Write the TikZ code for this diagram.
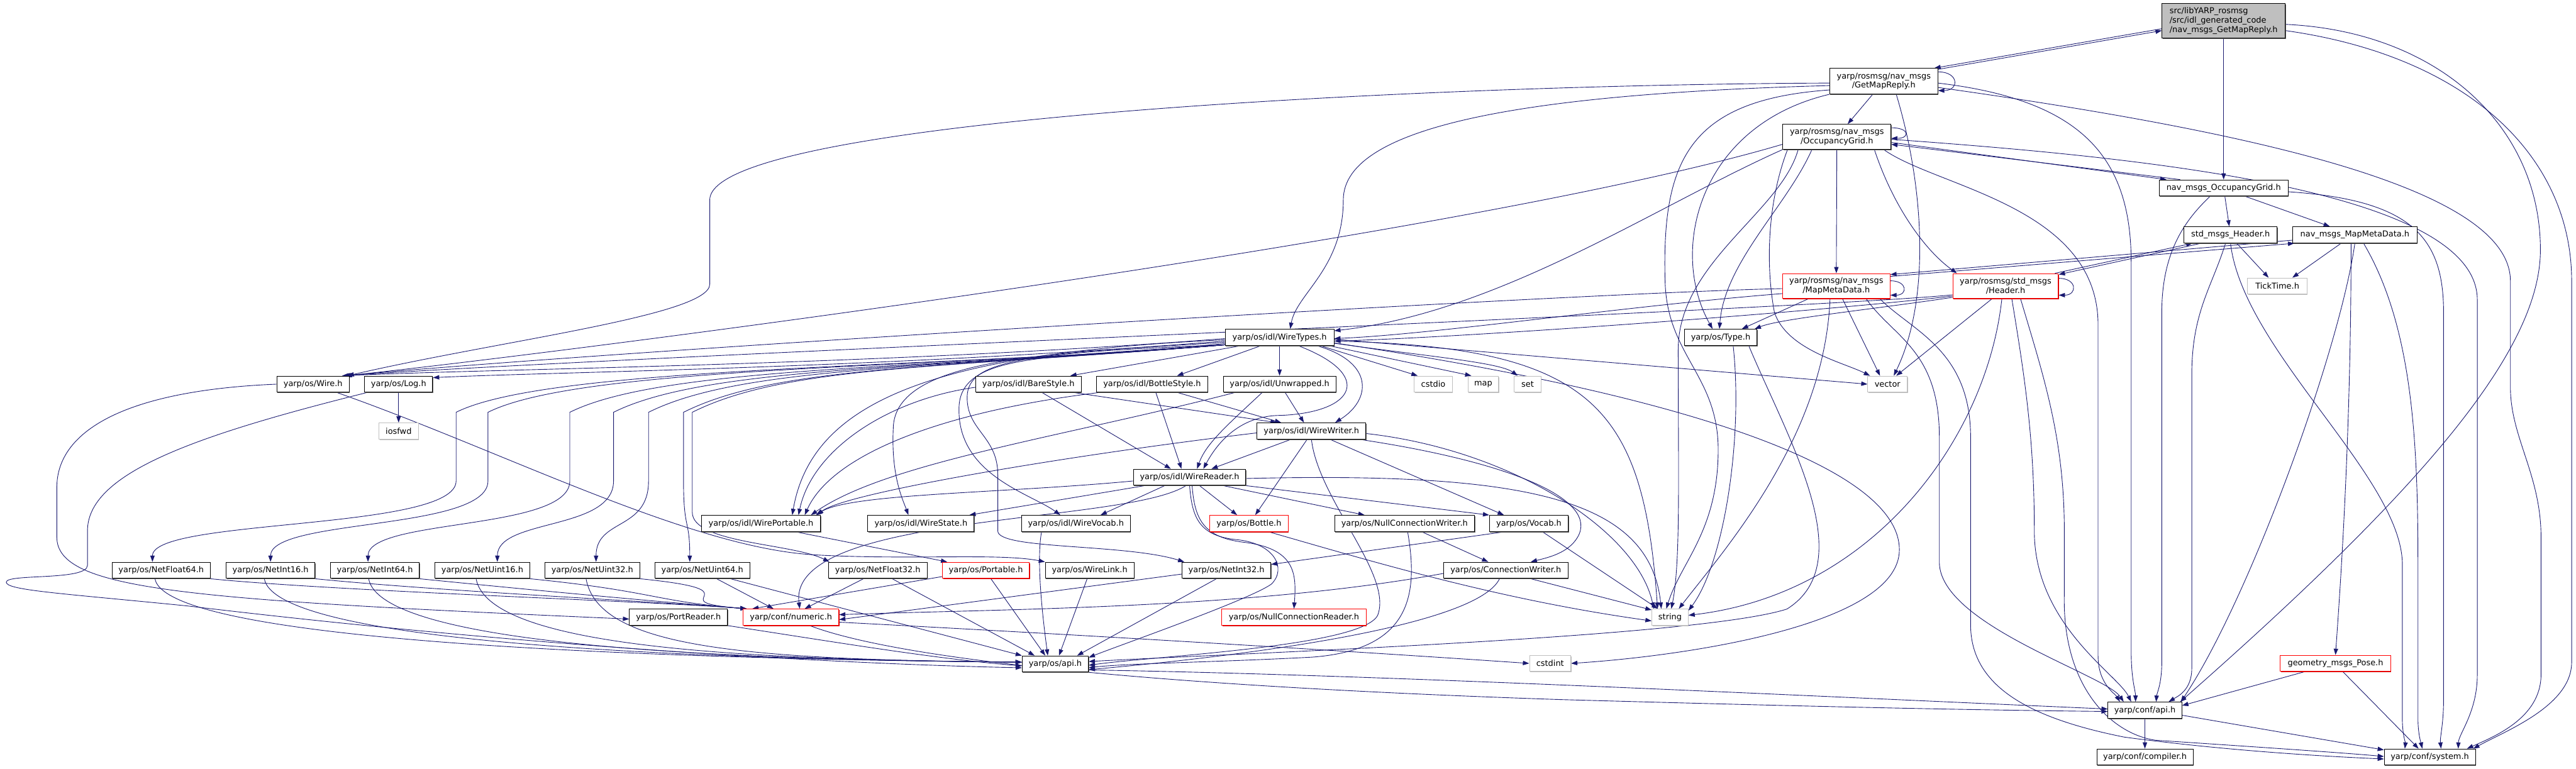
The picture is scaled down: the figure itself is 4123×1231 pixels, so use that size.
\documentclass[tikz,border=0pt]{standalone}
\usepackage{fontspec}
\setmainfont{DejaVu Sans}
\usetikzlibrary{arrows.meta,shadows,backgrounds}

\definecolor{depblue}{HTML}{191970}
\definecolor{sysgray}{HTML}{BFBFBF}
\definecolor{cutred}{HTML}{FF0000}

\tikzset{
  boxbase/.style={rectangle, fill=white, line width=1pt, inner sep=0pt,
    minimum height=26pt, font=\fontsize{13pt}{15pt}\selectfont},
  hdrbox/.style={boxbase, draw=black,
    drop shadow={shadow xshift=1pt, shadow yshift=-1.5pt, fill=black!60, opacity=1}},
  cutbox/.style={boxbase, draw=cutred,
    drop shadow={shadow xshift=1pt, shadow yshift=-1.5pt, fill=cutred!80!black, opacity=1}},
  sysbox/.style={boxbase, draw=sysgray,
    drop shadow={shadow xshift=1pt, shadow yshift=-1.5pt, fill=black!25, opacity=1}},
  dep/.style={draw=depblue, line width=0.9pt, -{Triangle[length=10pt,width=7pt]}}
}

\begin{document}
\begin{tikzpicture}[x=1pt, y=-1pt]
\useasboundingbox (0,0) rectangle (4123,1231);

% top of the graph
\node[hdrbox, fill=sysgray, minimum width=197pt, minimum height=55pt, align=left] (root) at (3559,33) {src/libYARP\_rosmsg\\/src/idl\_generated\_code\\/nav\_msgs\_GetMapReply.h};
\node[hdrbox, minimum width=173pt, minimum height=41pt, align=center] (gmr) at (3015,130) {yarp/rosmsg/nav\_msgs\\/GetMapReply.h};
\node[hdrbox, minimum width=173pt, minimum height=40pt, align=center] (occ) at (2940,219) {yarp/rosmsg/nav\_msgs\\/OccupancyGrid.h};
\node[hdrbox, minimum width=206pt] (navocc) at (3559,301) {nav\_msgs\_OccupancyGrid.h};
\node[hdrbox, minimum width=149pt] (stdhdr) at (3570,376) {std\_msgs\_Header.h};
\node[hdrbox, minimum width=199pt] (navmeta) at (3769,376) {nav\_msgs\_MapMetaData.h};
\node[cutbox, minimum width=172pt, minimum height=40pt, align=center] (meta) at (2939,458) {yarp/rosmsg/nav\_msgs\\/MapMetaData.h};
\node[cutbox, minimum width=169pt, minimum height=40pt, align=center] (hdr) at (3210,458) {yarp/rosmsg/std\_msgs\\/Header.h};
\node[sysbox, minimum width=95pt] (ticktime) at (3645,458) {TickTime.h};

% idl layer
\node[hdrbox, minimum width=174pt] (wiretypes) at (2048,540) {yarp/os/idl/WireTypes.h};
\node[hdrbox, minimum width=116pt] (type) at (2754,540) {yarp/os/Type.h};
\node[hdrbox, minimum width=116pt] (wire) at (501,615) {yarp/os/Wire.h};
\node[hdrbox, minimum width=109pt] (log) at (638,615) {yarp/os/Log.h};
\node[hdrbox, minimum width=169pt] (bare) at (1646,615) {yarp/os/idl/BareStyle.h};
\node[hdrbox, minimum width=178pt] (bottlestyle) at (1844,615) {yarp/os/idl/BottleStyle.h};
\node[hdrbox, minimum width=180pt] (unwrapped) at (2048,615) {yarp/os/idl/Unwrapped.h};
\node[sysbox, minimum width=61pt] (cstdio) at (2294,615) {cstdio};
\node[sysbox, minimum width=49pt] (map) at (2374,615) {map};
\node[sysbox, minimum width=43pt] (set) at (2445,615) {set};
\node[sysbox, minimum width=63pt] (vector) at (3021,615) {vector};
\node[sysbox, minimum width=63pt] (iosfwd) at (638,690) {iosfwd};
\node[hdrbox, minimum width=174pt] (wirewriter) at (2099,690) {yarp/os/idl/WireWriter.h};
\node[hdrbox, minimum width=180pt] (wirereader) at (1904,764) {yarp/os/idl/WireReader.h};

\node[hdrbox, minimum width=191pt] (wireportable) at (1218,838) {yarp/os/idl/WirePortable.h};
\node[hdrbox, minimum width=170pt] (wirestate) at (1474,838) {yarp/os/idl/WireState.h};
\node[hdrbox, minimum width=174pt] (wirevocab) at (1722,838) {yarp/os/idl/WireVocab.h};
\node[cutbox, minimum width=125pt] (bottle) at (1999,838) {yarp/os/Bottle.h};
\node[hdrbox, minimum width=224pt] (nullwriter) at (2248,838) {yarp/os/NullConnectionWriter.h};
\node[hdrbox, minimum width=126pt] (vocab) at (2447,838) {yarp/os/Vocab.h};

% net types row
\node[hdrbox, minimum width=157pt] (netfloat64) at (258,913) {yarp/os/NetFloat64.h};
\node[hdrbox, minimum width=142pt] (netint16) at (433,913) {yarp/os/NetInt16.h};
\node[hdrbox, minimum width=142pt] (netint64) at (600,913) {yarp/os/NetInt64.h};
\node[hdrbox, minimum width=152pt] (netuint16) at (772,913) {yarp/os/NetUint16.h};
\node[hdrbox, minimum width=152pt] (netuint32) at (948,913) {yarp/os/NetUint32.h};
\node[hdrbox, minimum width=152pt] (netuint64) at (1124,913) {yarp/os/NetUint64.h};
\node[hdrbox, minimum width=158pt] (netfloat32) at (1405,913) {yarp/os/NetFloat32.h};
\node[cutbox, minimum width=139pt] (portable) at (1578,913) {yarp/os/Portable.h};
\node[hdrbox, minimum width=142pt] (wirelink) at (1744,913) {yarp/os/WireLink.h};
\node[hdrbox, minimum width=142pt] (netint32) at (1963,913) {yarp/os/NetInt32.h};
\node[hdrbox, minimum width=199pt] (connwriter) at (2410,913) {yarp/os/ConnectionWriter.h};

\node[hdrbox, minimum width=157pt] (portreader) at (1086,988) {yarp/os/PortReader.h};
\node[cutbox, minimum width=153pt] (numeric) at (1266,988) {yarp/conf/numeric.h};
\node[cutbox, minimum width=231pt] (nullreader) at (2071,988) {yarp/os/NullConnectionReader.h};
\node[sysbox, minimum width=58pt] (string) at (2673,988) {string};

% bottom
\node[hdrbox, minimum width=106pt] (osapi) at (1689,1063) {yarp/os/api.h};
\node[sysbox, minimum width=66pt] (cstdint) at (2481,1062) {cstdint};
\node[cutbox, minimum width=177pt] (pose) at (3738,1062) {geometry\_msgs\_Pose.h};
\node[hdrbox, minimum width=118pt] (confapi) at (3433,1137) {yarp/conf/api.h};
\node[hdrbox, minimum width=154pt] (compiler) at (3433,1212) {yarp/conf/compiler.h};
\node[hdrbox, minimum width=146pt] (system) at (3889,1212) {yarp/conf/system.h};

\begin{scope}[on background layer]
% root
\draw[dep] ([yshift=-13pt]root.west) -- ([xshift=-6pt]gmr.north east);
\draw[dep] ([yshift=-2pt]gmr.north east) -- ([yshift=-16pt]root.west);
\draw[dep] (root) -- (navocc);
\draw[dep] ([yshift=-6pt]root.east) .. controls (3900,50) and (4066,200) .. (4066,400) .. controls (4066,560) and (3880,780) .. ([xshift=-3pt]confapi.north east);
\draw[dep] ([yshift=-16pt]root.east) .. controls (3950,90) and (4116,250) .. (4116,450) -- (4116,1060) .. controls (4116,1130) and (4010,1170) .. ([xshift=-4pt]system.north east);

% GetMapReply
\draw[dep] ([yshift=-6pt]gmr.north east) .. controls +(34,0) and +(34,0) .. ([yshift=6pt]gmr.south east);
\draw[dep] (gmr) -- (occ);
\draw[dep] ([yshift=-3pt]gmr.west) .. controls (2300,135) and (1136,190) .. (1136,320) -- (1136,455) .. controls (1136,505) and (800,545) .. ([xshift=-3pt]wire.north east);
\draw[dep] ([yshift=-7pt]gmr.west) .. controls (2450,150) and (2150,200) .. (2150,320) .. controls (2150,430) and (2075,470) .. ([xshift=17pt]wiretypes.north);
\draw[dep] ([yshift=-14pt]gmr.west) .. controls (2700,160) and (2660,260) .. (2665,450) .. controls (2668,570) and (2750,600) .. (2750,720) .. controls (2750,850) and (2690,900) .. ([xshift=-6pt]string.north);
\draw[dep] (gmr.south west) .. controls (2720,200) and (2670,400) .. ([xshift=-13pt]type.north);
\draw[dep] ([xshift=20pt]gmr.south) .. controls (3080,300) and (3090,480) .. ([xshift=10pt]vector.north);
\draw[dep] ([yshift=-3pt]gmr.east) .. controls (3330,160) and (3411,250) .. (3411,420) -- (3411,1040) .. controls (3411,1090) and (3418,1105) .. ([xshift=-15pt]confapi.north);
\draw[dep] ([yshift=-10pt]gmr.east) .. controls (3600,210) and (4018,300) .. (4018,450) -- (4018,620) .. controls (4018,700) and (4067,760) .. (4067,860) -- (4067,1080) .. controls (4067,1150) and (3990,1180) .. ([xshift=-14pt]system.north east);

% rosmsg OccupancyGrid
\draw[dep] ([yshift=-6pt]occ.north east) .. controls +(30,0) and +(30,0) .. ([yshift=-23pt]occ.north east);
\draw[dep] ([yshift=-9pt]occ.east) -- ([xshift=12pt]navocc.north west);
\draw[dep] ([xshift=34pt]navocc.north west) -- ([yshift=-12pt]occ.east);
\draw[dep] (occ) -- (meta);
\draw[dep] ([xshift=60pt]occ.south) .. controls (3030,330) and (3080,400) .. ([xshift=-78pt]hdr.north);
\draw[dep] ([yshift=-12pt]occ.west) .. controls (2350,380) and (900,565) .. ([xshift=-6pt]wire.north east);
\draw[dep] (occ.south west) .. controls (2650,330) and (2400,500) .. ([yshift=-3pt]wiretypes.north east);
\draw[dep] ([xshift=-40pt]occ.south) .. controls (2860,330) and (2760,420) .. ([xshift=-2pt]type.north);
\draw[dep] ([xshift=-62pt]occ.south) .. controls (2850,340) and (2686,420) .. (2686,560) .. controls (2686,760) and (2690,900) .. ([xshift=2pt]string.north);
\draw[dep] ([xshift=8pt]occ.south west) .. controls (2830,320) and (2825,420) .. (2840,500) .. controls (2860,560) and (2950,580) .. ([xshift=4pt]vector.north west);
\draw[dep] ([xshift=75pt]occ.south) .. controls (3100,300) and (3358,330) .. (3358,520) -- (3358,1050) .. controls (3358,1095) and (3385,1110) .. ([xshift=-40pt]confapi.north);
\draw[dep] ([yshift=-4pt]occ.east) .. controls (3400,250) and (3965,300) .. (3965,480) -- (3965,1080) .. controls (3965,1140) and (3935,1175) .. ([xshift=-28pt]system.north east);

% nav_msgs_OccupancyGrid.h
\draw[dep] (navocc) -- (stdhdr);
\draw[dep] ([xshift=35pt]navocc.south) -- ([xshift=-40pt]navmeta.north);
\draw[dep] ([xshift=-22pt]navocc.south) .. controls (3500,350) and (3460,400) .. (3460,500) -- (3460,1060) .. controls (3460,1095) and (3452,1110) .. ([xshift=18pt]confapi.north);
\draw[dep] ([yshift=-6pt]navocc.east) .. controls (3860,320) and (3911,380) .. (3911,500) -- (3911,1120) .. controls (3911,1160) and (3905,1180) .. ([xshift=18pt]system.north);

% std_msgs_Header.h
\draw[dep] ([xshift=-6pt]hdr.north east) -- ([xshift=14pt]stdhdr.south west);
\draw[dep] ([xshift=28pt]stdhdr.south west) -- ([yshift=-2pt]hdr.north east);
\draw[dep] ([xshift=10pt]stdhdr.south) -- ([xshift=-14pt]ticktime.north);
\draw[dep] ([xshift=-8pt]stdhdr.south) .. controls (3540,460) and (3508,500) .. (3508,600) -- (3508,1070) .. controls (3508,1105) and (3485,1115) .. ([xshift=38pt]confapi.north);
\draw[dep] (stdhdr.south) .. controls (3590,560) and (3840,760) .. (3845,900) -- (3845,1150) .. controls (3845,1175) and (3850,1190) .. ([xshift=-40pt]system.north);

% nav_msgs_MapMetaData.h
\draw[dep] ([yshift=-5pt]meta.north east) -- ([xshift=3pt]navmeta.south west);
\draw[dep] ([yshift=-22pt]navmeta.north west) -- ([yshift=-2pt]meta.north east);
\draw[dep] ([xshift=-22pt]navmeta.south) -- ([xshift=24pt]ticktime.north);
\draw[dep] ([xshift=-6pt]navmeta.south) .. controls (3763,700) and (3745,950) .. (pose.north);
\draw[dep] (navmeta.south) .. controls (3745,560) and (3600,960) .. ([xshift=-2pt]confapi.north east);
\draw[dep] ([xshift=14pt]navmeta.south) .. controls (3860,520) and (3870,700) .. (3870,900) -- (3870,1150) .. controls (3870,1175) and (3875,1190) .. ([xshift=-12pt]system.north);

% rosmsg MapMetaData
\draw[dep] ([yshift=-12pt]meta.north east) .. controls +(28,0) and +(28,0) .. ([yshift=6pt]meta.south east);
\draw[dep] ([yshift=-4pt]meta.west) .. controls (2500,470) and (1000,560) .. ([xshift=-8pt]wire.north east);
\draw[dep] ([yshift=-12pt]meta.west) .. controls (2600,490) and (2300,535) .. ([yshift=-2pt]wiretypes.east);
\draw[dep] ([xshift=-45pt]meta.south) -- ([xshift=34pt]type.north);
\draw[dep] ([xshift=-10pt]meta.south) .. controls (2920,700) and (2760,880) .. ([xshift=14pt]string.north);
\draw[dep] ([xshift=10pt]meta.south) -- ([xshift=-12pt]vector.north);
\draw[dep] ([xshift=48pt]meta.south) .. controls (3030,540) and (3104,560) .. (3104,700) -- (3104,900) .. controls (3104,1000) and (3370,1080) .. ([xshift=-34pt]confapi.north);
\draw[dep] ([xshift=70pt]meta.south) .. controls (3060,530) and (3154,560) .. (3154,700) -- (3154,1000) .. controls (3154,1100) and (3250,1150) .. (3400,1180) .. controls (3550,1200) and (3700,1210) .. ([yshift=-3pt]system.west);

% rosmsg std_msgs Header
\draw[dep] ([yshift=-8pt]hdr.north east) .. controls +(30,0) and +(30,0) .. ([yshift=6pt]hdr.south east);
\draw[dep] ([yshift=-14pt]hdr.west) .. controls (2900,495) and (1000,570) .. ([xshift=-10pt]wire.north east);
\draw[dep] ([yshift=-16pt]hdr.west) .. controls (2900,500) and (2350,540) .. ([yshift=-6pt]wiretypes.east);
\draw[dep] ([yshift=-18pt]hdr.west) .. controls (3000,495) and (2850,510) .. ([xshift=-4pt]type.north east);
\draw[dep] ([xshift=-22pt]hdr.south) -- ([xshift=14pt]vector.north);
\draw[dep] ([xshift=-6pt]hdr.south) .. controls (3180,700) and (3000,950) .. ([yshift=3pt]string.east);
\draw[dep] ([xshift=10pt]hdr.south) .. controls (3240,600) and (3256,700) .. (3256,850) .. controls (3256,1000) and (3390,1080) .. ([xshift=-22pt]confapi.north);
\draw[dep] ([xshift=24pt]hdr.south) .. controls (3270,600) and (3304,700) .. (3304,850) -- (3304,950) .. controls (3300,1100) and (3380,1175) .. (3450,1185) .. controls (3600,1195) and (3750,1205) .. ([yshift=1pt]system.west);

% yarp/os/Type.h
\draw[dep] ([xshift=20pt]type.south) .. controls (2790,700) and (2760,900) .. ([yshift=-3pt]string.north east);
\draw[dep] ([xshift=45pt]type.south) .. controls (2860,700) and (2980,900) .. (2860,975) .. controls (2720,1020) and (2000,1045) .. ([yshift=4pt]osapi.east);

% WireTypes.h
\draw[dep] ([xshift=-62pt]wiretypes.south) -- ([xshift=67pt]bare.north);
\draw[dep] ([xshift=-30pt]wiretypes.south) -- ([xshift=40pt]bottlestyle.north);
\draw[dep] (wiretypes) -- (unwrapped);
\draw[dep] ([xshift=60pt]wiretypes.south) .. controls (2200,580) and (2195,640) .. ([xshift=38pt]wirewriter.north);
\draw[dep] ([xshift=30pt]wiretypes.south) .. controls (2200,600) and (2170,660) .. (2050,665) .. controls (1980,665) and (1945,715) .. ([xshift=22pt]wirereader.north);
\draw[dep] ([yshift=-8pt]wiretypes.west) .. controls (1700,565) and (1440,570) .. (1430,680) .. controls (1425,760) and (1445,800) .. ([xshift=-20pt]wirestate.north);
\draw[dep] ([yshift=-10pt]wiretypes.west) .. controls (1700,575) and (1540,560) .. (1535,650) .. controls (1530,760) and (1650,790) .. ([xshift=-25pt]wirevocab.north);
\draw[dep] ([yshift=-4pt]wiretypes.west) .. controls (1500,565) and (1300,640) .. ([xshift=50pt]wireportable.north);
\draw[dep] ([yshift=-2pt]wiretypes.west) .. controls (1400,585) and (800,590) .. ([xshift=-12pt]wire.north east);
\draw[dep] ([yshift=-6pt]wiretypes.west) .. controls (1400,590) and (900,595) .. ([yshift=-3pt]log.north east);
\foreach \tgt/\lane/\dx in {netfloat64/730/-14pt, netint16/781/0pt, netint64/912/-11pt, netuint16/982/24pt, netuint32/1038/6pt, netuint64/1094/-20pt}
  \draw[dep] ([yshift=-12pt]wiretypes.west) .. controls (1500,590) and ({\lane+150},585) .. (\lane,660) -- (\lane,770) .. controls +(0,80) and +(0,-70) .. ([xshift=\dx]\tgt.north);
\draw[dep] ([yshift=-12pt]wiretypes.west) .. controls (1500,590) and (1258,585) .. (1108,660) -- (1108,820) .. controls +(0,50) and +(-60,-30) .. ([xshift=2pt]netfloat32.north west);
\draw[dep] ([yshift=-12pt]wiretypes.west) .. controls (1620,565) and (1545,580) .. (1548,640) .. controls (1550,690) and (1597,700) .. (1597,760) -- (1597,850) .. controls (1597,880) and (1800,870) .. ([xshift=4pt]netint32.north west);
\draw[dep] ([xshift=-22pt]wiretypes.south east) -- ([xshift=6pt]cstdio.north west);
\draw[dep] ([xshift=-8pt]wiretypes.south east) -- ([xshift=6pt]map.north west);
\draw[dep] ([yshift=4pt]wiretypes.south east) .. controls (2280,570) and (2400,580) .. ([xshift=6pt]set.north west);
\draw[dep] ([yshift=-3pt]wiretypes.east) -- (vector.west);
\draw[dep] ([yshift=-6pt]wiretypes.east) .. controls (2550,555) and (2630,650) .. ([xshift=-20pt]string.north);
\draw[dep] ([yshift=-9pt]wiretypes.east) .. controls (2750,640) and (3040,760) .. (3040,880) .. controls (3040,1000) and (2700,1050) .. (cstdint.east);

% Wire.h and Log.h
\draw[dep] (wire.west) .. controls (200,625) and (91,690) .. (91,780) -- (91,860) .. controls (91,945) and (300,960) .. ([yshift=-3pt]portreader.west);
\draw[dep] ([xshift=-20pt]wire.south east) .. controls (800,720) and (1100,875) .. (1300,888) .. controls (1450,897) and (1600,885) .. (wirelink.north west);
\draw[dep] (log) -- (iosfwd);
\draw[dep] ([xshift=4pt]log.south west) .. controls (300,700) and (140,760) .. (140,850) -- (140,905) .. controls (140,930) and (10,918) .. (10,932) .. controls (10,945) and (100,950) .. (300,970) .. controls (800,1030) and (1300,1062) .. ([yshift=-6pt]osapi.west);

% styles
\draw[dep] ([xshift=22pt]bare.south) -- ([xshift=-30pt]wirereader.north);
\draw[dep] ([xshift=-12pt]bare.south east) -- ([xshift=32pt]wirewriter.north west);
\draw[dep] ([yshift=-5pt]bare.west) .. controls (1420,640) and (1300,720) .. ([xshift=60pt]wireportable.north);
\draw[dep] ([xshift=6pt]bottlestyle.south) -- ([xshift=-13pt]wirereader.north);
\draw[dep] ([xshift=41pt]bottlestyle.south) -- ([xshift=39pt]wirewriter.north west);
\draw[dep] ([xshift=4pt]bottlestyle.south west) .. controls (1500,660) and (1330,730) .. ([xshift=70pt]wireportable.north);
\draw[dep] ([xshift=-28pt]unwrapped.south) .. controls (1965,680) and (1930,710) .. ([xshift=12pt]wirereader.north);
\draw[dep] ([xshift=9pt]unwrapped.south) -- ([xshift=-12pt]wirewriter.north);
\draw[dep] ([xshift=-72pt]unwrapped.south) .. controls (1700,700) and (1420,740) .. ([xshift=80pt]wireportable.north);

% WireWriter.h
\draw[dep] ([xshift=-33pt]wirewriter.south) -- ([xshift=35pt]wirereader.north);
\draw[dep] ([xshift=-7pt]wirewriter.south) -- ([xshift=10pt]bottle.north);
\draw[dep] ([xshift=30pt]wirewriter.south) -- ([xshift=-40pt]vocab.north);
\draw[dep] ([xshift=-10pt]wirewriter.south east) .. controls (2420,740) and (2560,800) .. (2525,860) .. controls (2510,885) and (2480,892) .. ([xshift=40pt]connwriter.north);
\draw[dep] ([yshift=-4pt]wirewriter.east) .. controls (2420,720) and (2620,850) .. ([xshift=-26pt]string.north);
\draw[dep] (wirewriter.south) .. controls (2110,800) and (2230,920) .. (2205,985) .. controls (2180,1035) and (1850,1050) .. ([yshift=-2pt]osapi.east);
\draw[dep] ([yshift=-3pt]wirewriter.west) .. controls (1700,730) and (1350,790) .. ([xshift=90pt]wireportable.north);

% WireReader.h
\draw[dep] ([xshift=-72pt]wirereader.south) -- ([xshift=-8pt]wirestate.north east);
\draw[dep] ([xshift=-40pt]wirereader.south) -- ([xshift=-48pt]wirevocab.north east);
\draw[dep] ([xshift=16pt]wirereader.south) -- ([xshift=-19pt]bottle.north);
\draw[dep] ([xshift=54pt]wirereader.south) -- ([xshift=-64pt]nullwriter.north);
\draw[dep] (wirereader.south east) -- (vocab.north west);
\draw[dep] ([yshift=-2pt]wirereader.east) .. controls (2450,755) and (2640,800) .. ([xshift=-14pt]string.north);
\draw[dep] ([yshift=-6pt]wirereader.west) .. controls (1600,790) and (1360,790) .. ([xshift=88pt]wireportable.north);
\draw[dep] ([xshift=-6pt]wirereader.south) .. controls (1800,840) and (1260,820) .. ([xshift=14pt]numeric.north);
\draw[dep] (wirereader.south) .. controls (1908,830) and (1920,858) .. (1980,864) .. controls (2040,870) and (2060,910) .. (2035,935) .. controls (2000,960) and (1800,1030) .. ([yshift=-3pt]osapi.north east);
\draw[dep] ([xshift=4pt]wirereader.south) .. controls (1912,830) and (1925,860) .. (1990,868) .. controls (2075,878) and (2075,920) .. (nullreader.north);

% second row of headers
\draw[dep] ([xshift=56pt]wireportable.south) -- ([xshift=-62pt]portable.north);
\draw[dep] ([xshift=-55pt]wirevocab.south) .. controls (1660,890) and (1665,960) .. ([xshift=-12pt]osapi.north);
\draw[dep] ([xshift=32pt]bottle.south) .. controls (2200,900) and (2400,960) .. ([yshift=-6pt]string.west);
\draw[dep] ([xshift=28pt]nullwriter.south) -- ([xshift=-28pt]connwriter.north);
\draw[dep] ([xshift=5pt]nullwriter.south) .. controls (2270,950) and (2260,1040) .. (2100,1052) .. controls (1950,1060) and (1800,1062) .. ([yshift=-6pt]osapi.east);
\draw[dep] ([xshift=-40pt]vocab.south) -- ([yshift=-4pt]netint32.north east);
\draw[dep] ([xshift=22pt]vocab.south) -- ([xshift=10pt]string.north west);

% net types and friends
\draw[dep] ([yshift=-6pt]netint32.west) -- ([yshift=-4pt]numeric.east);
\draw[dep] ([xshift=-16pt]netint32.south) -- ([xshift=35pt]osapi.north);
\draw[dep] ([yshift=-5pt]connwriter.west) .. controls (2000,975) and (1600,975) .. ([yshift=4pt]numeric.east);
\draw[dep] ([xshift=-10pt]connwriter.south) .. controls (2370,990) and (2100,1040) .. ([yshift=-9pt]osapi.east);
\draw[dep] ([xshift=40pt]connwriter.south) -- ([yshift=-2pt]string.north west);
\draw[dep] ([xshift=-4pt]wirelink.south) -- ([xshift=6pt]osapi.north);
\draw[dep] ([xshift=8pt]portable.south) -- ([xshift=-16pt]osapi.north);
\draw[dep] ([yshift=-10pt]portable.west) -- ([xshift=-62pt]numeric.north);
\draw[dep] ([xshift=-23pt]netfloat32.south) -- ([xshift=22pt]numeric.north);
\draw[dep] ([xshift=23pt]netfloat32.south) -- ([xshift=-33pt]osapi.north);
\draw[dep] ([xshift=23pt]netuint64.south) -- ([xshift=-28pt]numeric.north);
\draw[dep] ([xshift=45pt]netuint64.south) -- (osapi.north west);
\foreach \src in {netfloat64,netint16,netint64,netuint16,netuint32} {
  \draw[dep] (\src.south east) .. controls +(200,20) and +(-150,-12) .. ([xshift=6pt]numeric.north west);
  \draw[dep] ([xshift=-10pt]\src.south) .. controls +(20,110) and +(-450,-4) .. ([yshift=3pt]osapi.west);
}
\draw[dep] (portreader.south east) .. controls (1350,1030) and (1500,1055) .. ([yshift=-3pt]osapi.west);

% yarp/conf
\draw[dep] ([xshift=30pt]numeric.south) .. controls (1450,1060) and (1900,1100) .. (2500,1120) .. controls (3000,1134) and (3200,1137) .. ([yshift=-2pt]confapi.west);
\draw[dep] ([yshift=-8pt]numeric.east) .. controls (1800,1020) and (2200,1045) .. (cstdint.west);
\draw[dep] ([yshift=4pt]osapi.south east) .. controls (2200,1080) and (2800,1110) .. ([yshift=2pt]confapi.west);
\draw[dep] ([xshift=-50pt]pose.south) -- ([yshift=-6pt]confapi.north east);
\draw[dep] ([xshift=12pt]pose.south) -- ([xshift=-18pt]system.north);
\draw[dep] (confapi) -- (compiler);
\draw[dep] ([yshift=-8pt]confapi.east) -- ([yshift=-2pt]system.north west);
\end{scope}
\end{tikzpicture}
\end{document}
